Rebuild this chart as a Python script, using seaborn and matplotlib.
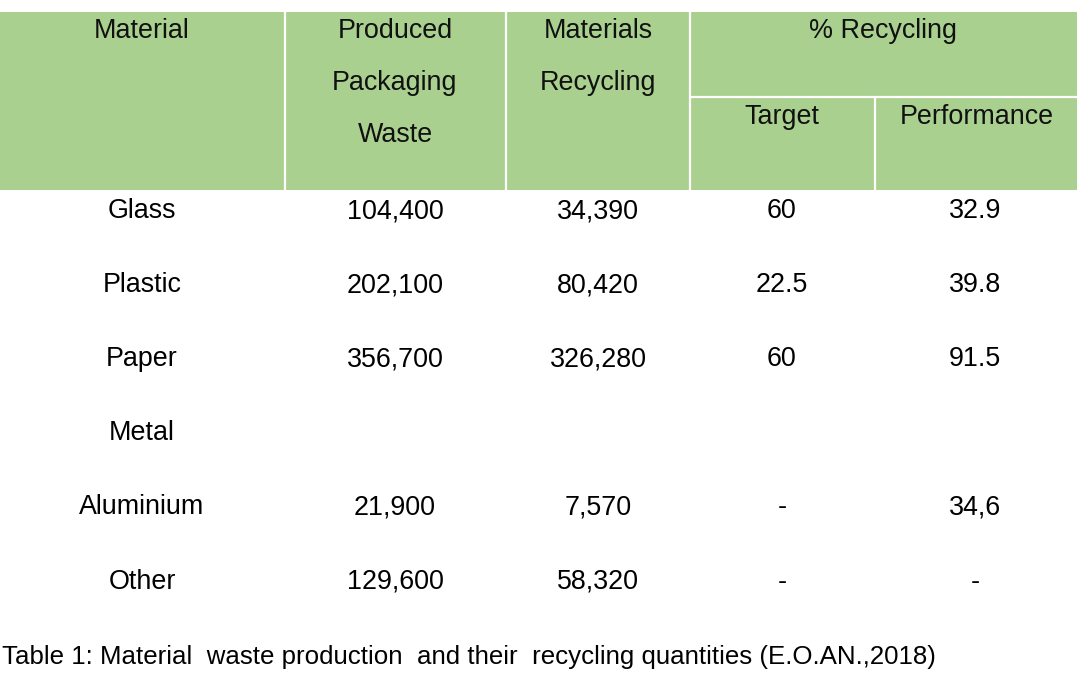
import matplotlib
matplotlib.use("Agg")
import matplotlib.pyplot as plt
import pandas as pd
import seaborn as sns
from matplotlib.patches import Rectangle

materials = ["Glass", "Plastic", "Paper", "Metal", "Aluminium", "Other"]
produced = ["104,400", "202,100", "356,700", "", "21,900", "129,600"]
recycled = ["34,390", "80,420", "326,280", "", "7,570", "58,320"]
target = ["60", "22.5", "60", "", "-", "-"]
performance = ["32.9", "39.8", "91.5", "", "34,6", "-"]
caption = "Table 1: Material  waste production  and their  recycling quantities (E.O.AN.,2018)"

table = pd.DataFrame({
    "Material": materials,
    "Produced": produced,
    "Recycled": recycled,
    "Target": target,
    "Performance": performance,
})

sns.set_theme(style="white")
plt.rcParams["font.family"] = ["Liberation Sans", "DejaVu Sans"]

fig = plt.figure(figsize=(10.8, 6.75), dpi=100)
ax = fig.add_axes([0, 0, 1, 1])
ax.set_xlim(0, 1080)
ax.set_ylim(675, 0)
ax.axis("off")

green = "#a9d08e"
fs = 19.4

# header block
edges = [0, 285, 506, 690, 875, 1077]
top, mid, bottom = 12, 97, 190
ax.add_patch(Rectangle((0, top), 1077, bottom - top, facecolor=green, edgecolor="none"))
for x in edges[1:4]:
    ax.plot([x, x], [top, bottom], color="white", lw=1.6)
ax.plot([edges[4], edges[4]], [mid, bottom], color="white", lw=1.6)
ax.plot([edges[3], edges[5]], [mid, mid], color="white", lw=1.6)

hdr = dict(ha="center", va="center", fontsize=fs, color="#111111")
ax.text(142, 31, "Material", **hdr)
for y, s in zip([31, 83, 135], ["Produced", "Packaging", "Waste"]):
    ax.text(395, y, s, **hdr)
for y, s in zip([31, 83], ["Materials", "Recycling"]):
    ax.text(598, y, s, **hdr)
ax.text(883, 31, "% Recycling", **hdr)
ax.text(782, 117, "Target", **hdr)
ax.text(977, 117, "Performance", **hdr)

# body rows
col_x = [142, 395, 598, 782, 975]
row_y = [211, 285, 359, 433, 507, 582]
for i, (_, row) in enumerate(table.iterrows()):
    for x, val in zip(col_x, row.values):
        ax.text(x, row_y[i], val, ha="center", va="center", fontsize=fs, color="black")

ax.text(2, 657, caption, ha="left", va="center", fontsize=18.6, color="black")

fig.savefig("out.png", dpi=100)
